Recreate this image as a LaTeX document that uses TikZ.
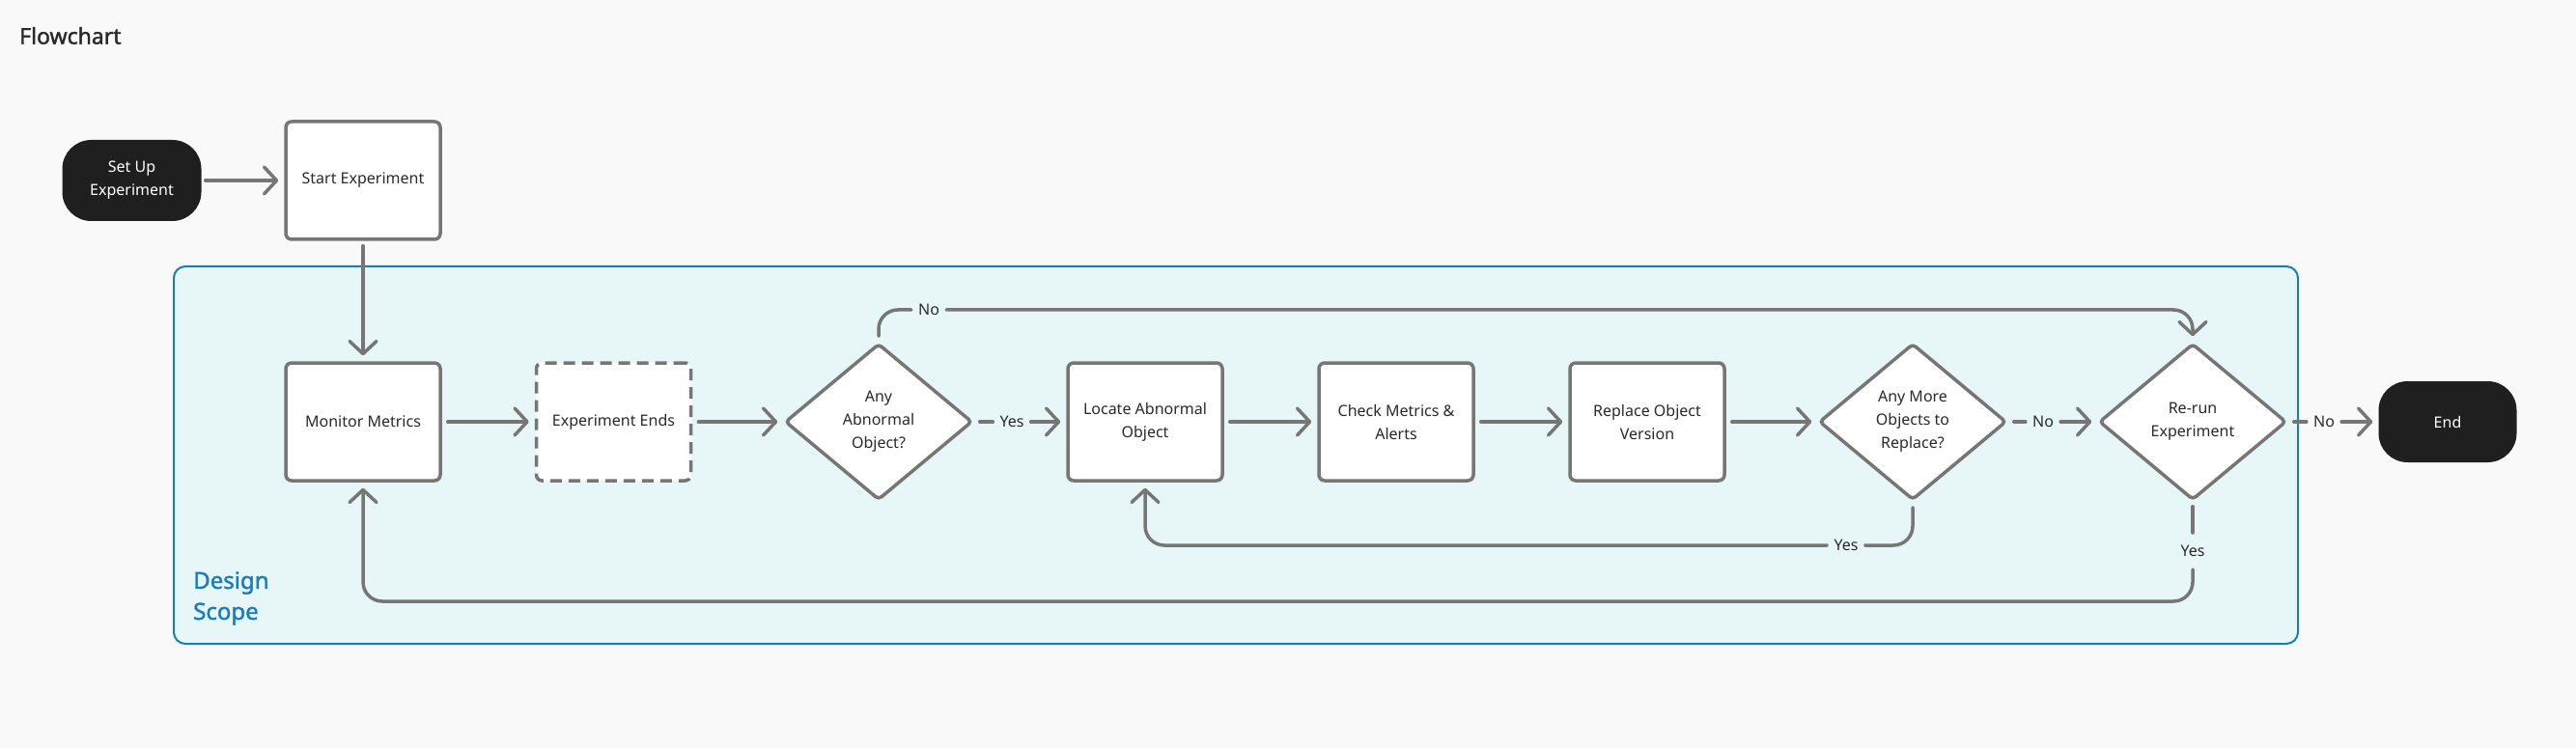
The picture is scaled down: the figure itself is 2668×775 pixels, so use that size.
\documentclass[tikz,border=0pt]{standalone}
\usepackage{fontspec}
\setmainfont{Noto Sans}
\newfontfamily\headfont{Noto Sans}[FakeBold=1.6]
\usetikzlibrary{arrows.meta,shapes.geometric}
\definecolor{bg}{HTML}{F9F9F9}
\definecolor{scopefill}{HTML}{E7F7F7}
\definecolor{scopeline}{HTML}{1B7DB6}
\definecolor{edgecol}{HTML}{767676}
\definecolor{ink}{HTML}{2A2A2A}
\definecolor{pillcol}{HTML}{1F1F1F}
\definecolor{scopetext}{HTML}{1A7CC0}
\tikzset{
  base/.style={font=\fontsize{16}{24}\selectfont, text=ink, align=center, inner sep=0pt},
  proc/.style={base, draw=edgecol, line width=3.5pt, fill=white, rounded corners=6pt,
    minimum width=160pt, minimum height=122pt},
  procdash/.style={proc, dash pattern=on 12pt off 7pt},
  decision/.style={base, diamond, draw=edgecol, line width=3.5pt, fill=white, rounded corners=4pt,
    minimum width=194pt, minimum height=162pt},
  terminal/.style={base, fill=pillcol, text=white, rounded corners=30pt,
    minimum width=144pt, minimum height=84pt},
  lbl/.style={font=\fontsize{16}{20}\selectfont, text=ink, inner sep=7pt},
  conn/.style={draw=edgecol, line width=3.5pt, line cap=round, line join=round, rounded corners=20pt},
  arr/.style={-{Straight Barb[length=13pt, width=28pt, line cap=round, line join=round]}, shorten >=6pt},
}
\begin{document}
\begin{tikzpicture}[x=1pt, y=-1pt]
\fill[bg] (0,0) rectangle (2668,775);
\useasboundingbox (0,0) rectangle (2668,775);
% scope
\draw[scopeline, fill=scopefill, line width=2pt, rounded corners=12pt] (180,276) rectangle (2380,667);
\node[anchor=west, align=left, font=\headfont\fontsize{24}{32}\selectfont, text=scopetext, inner sep=0pt] (scopelbl) at (200,620) {Design\\Scope};
% title
\node[anchor=west, font=\headfont\fontsize{23}{28}\selectfont, text=ink, inner sep=0pt] (title) at (20,37) {Flowchart};
% nodes
\node[terminal] (setup) at (136.5,187) {Set Up\\Experiment};
\node[proc] (start) at (376,187) {Start Experiment};
\node[proc] (monitor) at (376,437) {Monitor Metrics};
\node[procdash] (ends) at (635.5,437) {Experiment Ends};
\node[decision] (d1) at (910,437) {Any\\Abnormal\\Object?};
\node[proc] (locate) at (1186,437) {Locate Abnormal\\Object};
\node[proc] (check) at (1446,437) {Check Metrics \&\\Alerts};
\node[proc] (replace) at (1706,437) {Replace Object\\Version};
\node[decision] (d2) at (1981,437) {Any More\\Objects to\\Replace?};
\node[decision] (d3) at (2271,437) {Re-run\\Experiment};
\node[terminal, minimum width=143pt] (end) at (2535,437) {End};
% labels
\node[lbl] (yes1) at (1048,437) {Yes};
\node[lbl] (no1) at (962,321) {No};
\node[lbl] (no2) at (2116,437) {No};
\node[lbl] (no3) at (2407,437) {No};
\node[lbl] (yes2) at (1912,565) {Yes};
\node[lbl, inner ysep=13pt] (yes3) at (2271,571) {Yes};
\coordinate (loopcorner) at (376,623);
% connectors
\draw[conn, arr, shorten <=4pt] (setup) -- (start);
\draw[conn, arr, shorten <=5pt] (start) -- (monitor);
\draw[conn, arr, shorten <=6pt] (monitor) -- (ends);
\draw[conn, arr, shorten <=6pt] (ends) -- (d1);
\draw[conn, shorten <=6pt] (d1.east) -- (yes1);
\draw[conn, arr] (yes1) -- (locate);
\draw[conn, arr, shorten <=6pt] (locate) -- (check);
\draw[conn, arr, shorten <=6pt] (check) -- (replace);
\draw[conn, arr, shorten <=6pt] (replace) -- (d2);
\draw[conn, shorten <=6pt] (d2.east) -- (no2);
\draw[conn, arr] (no2) -- (d3.west);
\draw[conn, shorten <=6pt] (d3.east) -- (no3);
\draw[conn, arr] (no3) -- (end);
\draw[conn, shorten <=6pt] (d1.north) |- (no1);
\draw[conn, arr] (no1) -| (d3.north);
\draw[conn, shorten <=6pt] (d2.south) |- (yes2);
\draw[conn, arr] (yes2) -| (locate.south);
\draw[conn, shorten <=5pt] (d3.south) -- (yes3);
\draw[conn, arr] (yes3) |- (loopcorner) -- (monitor.south);
\end{tikzpicture}
\end{document}
